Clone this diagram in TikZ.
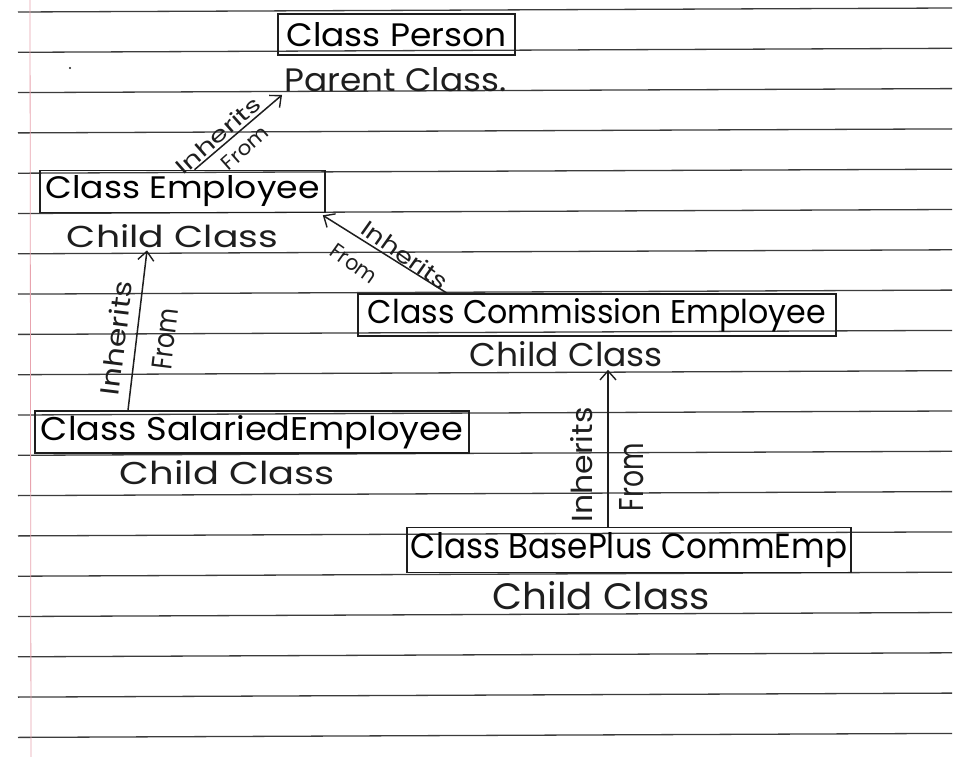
\documentclass[tikz,border=0pt]{standalone}
\usepackage{fontspec}
\setmainfont{Poppins}
\usepackage{graphicx}
\usetikzlibrary{arrows.meta}
\newcommand{\rz}[3]{\resizebox{#1pt}{#2pt}{#3}}
\definecolor{ink}{HTML}{1E1E1E}
\definecolor{rulec}{HTML}{3C3C3C}
\definecolor{marginc}{HTML}{E8A3AE}
\begin{document}
\begin{tikzpicture}[x=1pt,y=-1pt,
 box/.style={draw=ink,line width=1.6pt,inner sep=0pt,rectangle},
 txt/.style={inner sep=0pt,text=ink},
 lbl/.style={inner sep=0pt,text=ink},
 inh/.style={draw=ink,line width=1.5pt,-{Straight Barb[length=9pt,width=16pt,line width=1.4pt]}}]
\useasboundingbox (0,0) rectangle (975,757);
\fill[white] (0,0) rectangle (975,757);
\foreach \k in {0,...,18} { \draw[rulec,line width=1.3pt] (18,{12+40.3*\k}) -- (952,{8+40.3*\k}); }
\draw[marginc,line width=0.8pt] (30,0) -- (31,757);
\fill[ink] (70,68) circle (1.2pt);

\node[box,minimum width=237pt,minimum height=41pt] (person) at (396.5,34.5) {\rz{220}{24}{Class Person}};
\node[box,minimum width=285pt,minimum height=42pt] (emp) at (182.5,191.5) {\rz{274}{23}{Class Employee}};
\node[box,minimum width=478pt,minimum height=42pt] (com) at (597,315) {\rz{458}{25}{Class Commission Employee}};
\node[box,minimum width=434pt,minimum height=42pt] (sal) at (252,432) {\rz{422}{25}{Class SalariedEmployee}};
\node[box,minimum width=444pt,minimum height=45pt] (base) at (629,550) {\rz{436}{26}{Class BasePlus CommEmp}};

\node[txt] (pc) at (395.5,80) {\rz{222}{24}{Parent Class.}};
\node[txt] (ec) at (172.5,236.5) {\rz{211}{23}{Child Class}};
\node[txt] (cc) at (566.5,354) {\rz{193}{25}{Child Class}};
\node[txt] (sc) at (227.5,473) {\rz{215}{24}{Child Class}};
\node[txt] (bc) at (601.5,596) {\rz{217}{28}{Child Class}};

\coordinate (ptip) at (282,95);
\draw[inh] ([xshift=12pt]emp.north) -- (ptip);
\draw[inh] ([xshift=-150pt]com.north) -- ([xshift=-3pt,yshift=-2pt]emp.south east);
\draw[inh] ([xshift=-124pt]sal.north) -- ([xshift=-25.5pt,yshift=-2pt]ec.south);
\draw[inh] ([xshift=-21pt]base.north) -- ([xshift=41.5pt,yshift=-3pt]cc.south);

\node[lbl,rotate=41.5] (l1a) at (218,135) {\rz{105}{16}{Inherits}};
\node[lbl,rotate=41.5] (l1b) at (245,148) {\rz{55}{14}{From}};
\node[lbl,rotate=-35.4] (l2a) at (405,255) {\rz{100}{17}{Inherits}};
\node[lbl,rotate=-35.4] (l2b) at (354,264) {\rz{52}{15}{From}};
\node[lbl,rotate=83] (l3a) at (116,338) {\rz{115}{20}{Inherits}};
\node[lbl,rotate=83] (l3b) at (165,339) {\rz{62}{20}{From}};
\node[lbl,rotate=90] (l4a) at (582,465) {\rz{115}{22}{Inherits}};
\node[lbl,rotate=90] (l4b) at (632,477) {\rz{68}{24}{From}};
\end{tikzpicture}
\end{document}
